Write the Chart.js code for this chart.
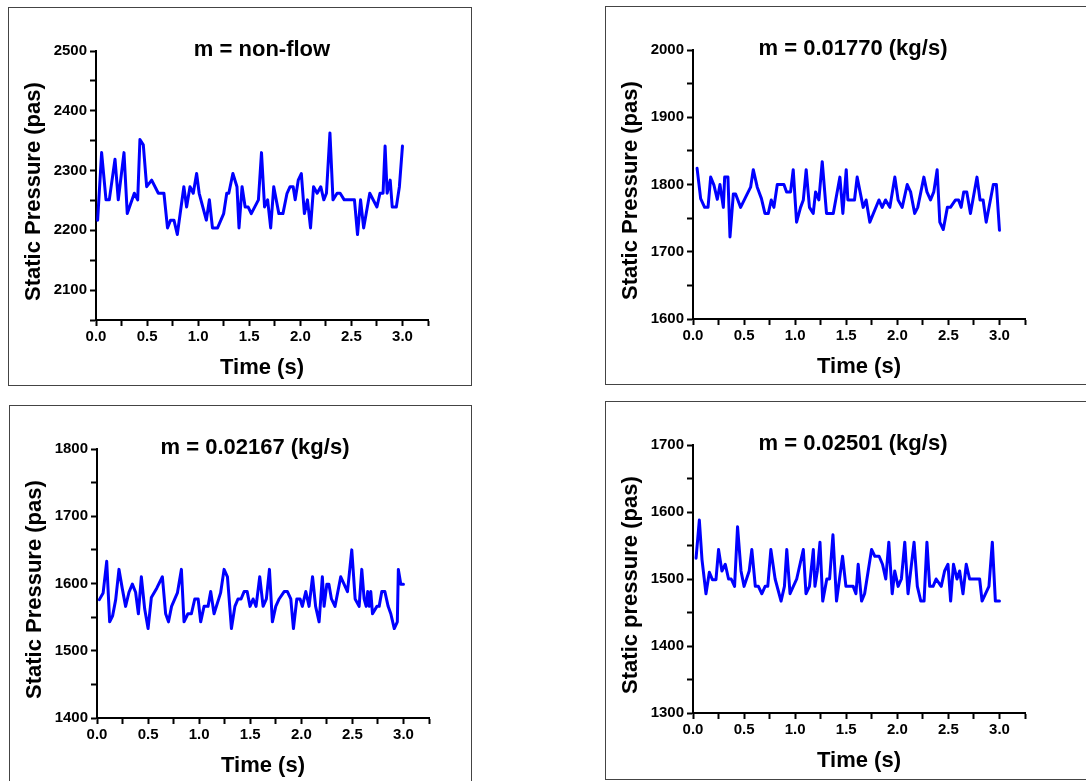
<!DOCTYPE html>
<html>
<head>
<meta charset="utf-8">
<script src="https://cdn.jsdelivr.net/npm/chart.js@4"></script>
<style>
  body { margin: 0; background: #fff; overflow: hidden; width: 1086px; height: 781px; position: relative; }
  .panel { position: absolute; border: 1px solid #444; box-sizing: border-box; background: #fff; }
  .panel canvas { position: absolute; left: 0; top: 0; }
</style>
</head>
<body>
<div class="panel" style="left:8px; top:7px; width:464px; height:379px;"><canvas id="g1" width="462" height="377"></canvas></div>
<div class="panel" style="left:605px; top:6px; width:490px; height:379px;"><canvas id="g2" width="462" height="377"></canvas></div>
<div class="panel" style="left:9px; top:405px; width:463px; height:390px;"><canvas id="g3" width="462" height="377"></canvas></div>
<div class="panel" style="left:605px; top:401px; width:490px; height:379px;"><canvas id="g4" width="462" height="376"></canvas></div>
<script>
// m = non-flow
const tiempoNoFlow = [0.016, 0.055, 0.098, 0.13, 0.186, 0.218, 0.274, 0.306, 0.375, 0.408, 0.43, 0.463, 0.496, 0.545, 0.61, 0.665, 0.70, 0.73, 0.763, 0.796, 0.86, 0.887, 0.92, 0.952, 0.985, 1.01, 1.08, 1.11, 1.14, 1.19, 1.25, 1.28, 1.30, 1.34, 1.38, 1.40, 1.43, 1.46, 1.49, 1.52, 1.59, 1.62, 1.65, 1.68, 1.71, 1.74, 1.79, 1.83, 1.87, 1.90, 1.93, 1.95, 1.98, 2.01, 2.04, 2.07, 2.10, 2.13, 2.165, 2.20, 2.23, 2.256, 2.29, 2.32, 2.36, 2.39, 2.43, 2.53, 2.56, 2.59, 2.62, 2.68, 2.75, 2.78, 2.81, 2.83, 2.85, 2.88, 2.90, 2.94, 2.97, 3.0];
const presionNoFlow = [2217, 2330, 2251, 2251, 2319, 2251, 2330, 2228, 2262, 2251, 2352, 2343, 2273, 2284, 2262, 2262, 2204, 2217, 2217, 2193, 2273, 2239, 2273, 2262, 2295, 2262, 2217, 2251, 2204, 2204, 2228, 2262, 2262, 2295, 2273, 2204, 2273, 2239, 2239, 2228, 2251, 2330, 2239, 2251, 2204, 2273, 2228, 2228, 2262, 2273, 2273, 2251, 2284, 2295, 2228, 2251, 2204, 2273, 2262, 2273, 2251, 2262, 2363, 2251, 2262, 2262, 2251, 2251, 2193, 2251, 2204, 2262, 2239, 2262, 2262, 2341, 2262, 2284, 2239, 2239, 2273, 2341];

// m = 0.01770 kg/s
const tiempo01770 = [0.04, 0.075, 0.114, 0.147, 0.173, 0.205, 0.238, 0.264, 0.284, 0.297, 0.31, 0.342, 0.362, 0.395, 0.417, 0.466, 0.531, 0.564, 0.59, 0.629, 0.67, 0.704, 0.737, 0.766, 0.792, 0.825, 0.89, 0.916, 0.955, 0.981, 1.014, 1.053, 1.08, 1.108, 1.14, 1.177, 1.2, 1.232, 1.265, 1.307, 1.373, 1.438, 1.467, 1.5, 1.516, 1.581, 1.607, 1.666, 1.695, 1.731, 1.82, 1.852, 1.885, 1.927, 1.976, 2.008, 2.048, 2.097, 2.13, 2.17, 2.20, 2.26, 2.29, 2.325, 2.357, 2.39, 2.416, 2.45, 2.49, 2.52, 2.57, 2.60, 2.625, 2.65, 2.68, 2.716, 2.78, 2.81, 2.84, 2.87, 2.94, 2.97, 3.0];
const presion01770 = [1824, 1779, 1766, 1766, 1811, 1799, 1778, 1800, 1779, 1766, 1811, 1811, 1722, 1786, 1786, 1766, 1786, 1796, 1822, 1796, 1779, 1757, 1757, 1777, 1766, 1800, 1800, 1789, 1789, 1822, 1744, 1766, 1777, 1822, 1766, 1757, 1789, 1777, 1834, 1757, 1757, 1811, 1757, 1822, 1777, 1777, 1811, 1766, 1777, 1744, 1777, 1766, 1777, 1766, 1811, 1777, 1766, 1800, 1789, 1757, 1766, 1811, 1789, 1777, 1789, 1822, 1744, 1733, 1766, 1766, 1777, 1777, 1766, 1789, 1789, 1757, 1811, 1777, 1777, 1744, 1800, 1800, 1732];

// m = 0.02167 kg/s
const tiempo02167 = [0.023, 0.06, 0.095, 0.124, 0.153, 0.183, 0.215, 0.248, 0.28, 0.313, 0.346, 0.378, 0.405, 0.434, 0.467, 0.50, 0.532, 0.585, 0.64, 0.672, 0.70, 0.73, 0.787, 0.826, 0.852, 0.89, 0.924, 0.957, 0.99, 1.015, 1.048, 1.087, 1.113, 1.146, 1.21, 1.244, 1.277, 1.316, 1.35, 1.38, 1.41, 1.44, 1.47, 1.498, 1.528, 1.557, 1.593, 1.626, 1.658, 1.688, 1.717, 1.75, 1.783, 1.832, 1.864, 1.897, 1.923, 1.956, 1.988, 2.01, 2.044, 2.076, 2.11, 2.14, 2.174, 2.206, 2.223, 2.25, 2.27, 2.295, 2.33, 2.386, 2.452, 2.494, 2.527, 2.566, 2.592, 2.615, 2.635, 2.65, 2.665, 2.68, 2.697, 2.74, 2.762, 2.788, 2.818, 2.85, 2.876, 2.91, 2.94, 2.95, 2.974, 3.0];
const presion02167 = [1576, 1586, 1633, 1543, 1552, 1576, 1621, 1592, 1566, 1587, 1599, 1587, 1555, 1610, 1562, 1533, 1579, 1593, 1610, 1555, 1543, 1566, 1586, 1621, 1543, 1555, 1555, 1577, 1577, 1543, 1566, 1566, 1588, 1555, 1586, 1621, 1610, 1533, 1566, 1577, 1577, 1588, 1588, 1566, 1577, 1566, 1610, 1566, 1577, 1621, 1543, 1566, 1577, 1588, 1588, 1577, 1533, 1577, 1577, 1566, 1588, 1566, 1610, 1566, 1543, 1610, 1566, 1599, 1599, 1577, 1566, 1610, 1588, 1650, 1577, 1566, 1621, 1577, 1566, 1588, 1566, 1588, 1555, 1566, 1566, 1588, 1588, 1566, 1555, 1533, 1543, 1621, 1599, 1599];

// m = 0.02501 kg/s
const tiempo02501 = [0.03, 0.062, 0.088, 0.127, 0.16, 0.19, 0.225, 0.25, 0.283, 0.316, 0.348, 0.374, 0.407, 0.436, 0.47, 0.50, 0.55, 0.576, 0.61, 0.64, 0.674, 0.706, 0.732, 0.762, 0.804, 0.862, 0.895, 0.918, 0.95, 1.015, 1.08, 1.106, 1.14, 1.178, 1.194, 1.217, 1.243, 1.27, 1.31, 1.337, 1.37, 1.405, 1.464, 1.497, 1.568, 1.595, 1.617, 1.65, 1.68, 1.748, 1.78, 1.822, 1.855, 1.887, 1.917, 1.95, 1.975, 2.008, 2.04, 2.073, 2.105, 2.164, 2.196, 2.23, 2.262, 2.29, 2.317, 2.35, 2.38, 2.43, 2.463, 2.496, 2.522, 2.55, 2.584, 2.61, 2.643, 2.675, 2.708, 2.806, 2.83, 2.897, 2.93, 2.96, 3.0];
const presion02501 = [1531, 1588, 1529, 1478, 1510, 1499, 1499, 1544, 1512, 1522, 1500, 1500, 1489, 1578, 1512, 1489, 1512, 1544, 1489, 1489, 1478, 1489, 1489, 1544, 1500, 1467, 1489, 1544, 1478, 1500, 1544, 1478, 1489, 1544, 1489, 1512, 1555, 1467, 1500, 1500, 1566, 1467, 1534, 1489, 1489, 1478, 1522, 1467, 1478, 1544, 1534, 1534, 1522, 1500, 1555, 1478, 1512, 1489, 1500, 1555, 1478, 1555, 1489, 1467, 1467, 1555, 1489, 1489, 1500, 1489, 1512, 1522, 1467, 1522, 1500, 1512, 1478, 1522, 1500, 1500, 1467, 1489, 1555, 1467, 1467];

const xMax = 3.25;
const fuente = '"Liberation Sans", Arial, sans-serif';

// titulo dentro del marco, justo encima del eje
const tituloPanel = {
  id: 'tituloPanel',
  afterDraw(chart, args, opts) {
    const { ctx, chartArea } = chart;
    ctx.save();
    ctx.font = 'bold 22px ' + fuente;
    ctx.fillStyle = '#000';
    ctx.textAlign = 'center';
    ctx.textBaseline = 'middle';
    ctx.fillText(opts.text, (chartArea.left + chartArea.right) / 2 + (opts.dx || 0), chartArea.top - 1);
    ctx.restore();
  }
};

function crearGrafico(id, titulo, dx, yTitulo, tiempos, presiones, yMin, yMax) {
  const ctx = document.getElementById(id).getContext('2d');
  const puntos = tiempos.map((t, i) => ({ x: t, y: presiones[i] }));
  const ejeComun = {
    grid: { display: true, drawOnChartArea: false, drawTicks: true, tickLength: 6, tickWidth: 2, tickColor: '#000' },
    border: { display: true, color: '#000', width: 2 }
  };

  return new Chart(ctx, {
    type: 'line',
    data: {
      datasets: [{
        data: puntos,
        borderColor: '#0000ff',
        borderWidth: 3,
        borderJoinStyle: 'round',
        borderCapStyle: 'round',
        pointRadius: 0,
        tension: 0,
        fill: false
      }]
    },
    options: {
      responsive: false,
      animation: false,
      devicePixelRatio: 1,
      layout: { padding: { top: 43, right: 43, bottom: 0, left: 0 } },
      plugins: {
        legend: { display: false },
        tooltip: { enabled: false },
        tituloPanel: { text: titulo, dx: dx }
      },
      scales: {
        x: {
          ...ejeComun,
          type: 'linear',
          min: 0,
          max: xMax,
          afterFit(s) { s.height = 65; },
          ticks: {
            stepSize: 0.25,
            autoSkip: false,
            maxRotation: 0,
            padding: 2,
            color: '#000',
            font: { family: fuente, weight: 'bold', size: 15 },
            callback: v => (Number.isInteger(v * 2) && v <= 3) ? v.toFixed(1) : ''
          },
          title: {
            display: true,
            text: 'Time (s)',
            color: '#000',
            font: { family: fuente, weight: 'bold', size: 22 },
            padding: { top: 0, bottom: 4 }
          }
        },
        y: {
          ...ejeComun,
          min: yMin,
          max: yMax,
          afterFit(s) { s.width = 87; },
          ticks: {
            stepSize: 50,
            autoSkip: false,
            padding: 3,
            color: '#000',
            font: { family: fuente, weight: 'bold', size: 15 },
            callback: v => (v % 100 === 0) ? String(v) : ''
          },
          title: {
            display: true,
            // espacios al final: bajan un poco el texto girado
            text: yTitulo + '  ',
            color: '#000',
            font: { family: fuente, weight: 'bold', size: 22 },
            padding: { top: 12, bottom: 0 }
          }
        }
      }
    },
    plugins: [tituloPanel]
  });
}

crearGrafico('g1', 'm = non-flow', 0, 'Static Pressure (pas)', tiempoNoFlow, presionNoFlow, 2050, 2500);
crearGrafico('g2', 'm = 0.01770 (kg/s)', -6, 'Static Pressure (pas)', tiempo01770, presion01770, 1600, 2000);
crearGrafico('g3', 'm = 0.02167 (kg/s)', -8, 'Static Pressure (pas)', tiempo02167, presion02167, 1400, 1800);
crearGrafico('g4', 'm = 0.02501 (kg/s)', -6, 'Static pressure (pas)', tiempo02501, presion02501, 1300, 1700);
</script>
</body>
</html>
